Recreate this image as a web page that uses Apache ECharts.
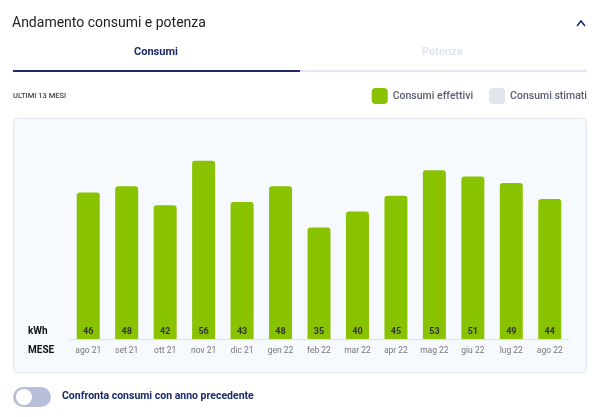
<!DOCTYPE html>
<html>
<head>
<meta charset="utf-8">
<script src="https://cdn.jsdelivr.net/npm/echarts@6/dist/echarts.min.js"></script>
<style>
html, body { margin: 0; padding: 0; background: #fff; }
#main { width: 600px; height: 417px; }
</style>
</head>
<body>
<div id="main"></div>
<script>
var myChart = echarts.init(document.getElementById('main'));

// dati
var mesi = ['ago 21', 'set 21', 'ott 21', 'nov 21', 'dic 21', 'gen 22', 'feb 22', 'mar 22', 'apr 22', 'mag 22', 'giu 22', 'lug 22', 'ago 22'];
var consumiEffettivi = [46, 48, 42, 56, 43, 48, 35, 40, 45, 53, 51, 49, 44];
var consumiStimati = [];

var font = 'Roboto, "Noto Sans", sans-serif';
var navy = '#1b2a6b';

var option = {
	backgroundColor: '#fff',
	animation: false,
	legend: {
		right: 8,
		top: 83,
		itemWidth: 16,
		itemHeight: 16,
		itemGap: 16,
		icon: 'roundRect',
		textStyle: {
			fontFamily: font,
			fontSize: 10.5,
			fontWeight: 500,
			color: '#5a5f6e'
		},
		data: ['Consumi effettivi', 'Consumi stimati']
	},
	graphic: [
		// titolo
		{ type: 'text', left: 12, top: 16, style: { text: 'Andamento consumi e potenza', font: '14px ' + font, fill: '#222' } },
		// tabs
		{ type: 'text', left: 134, top: 47, style: { text: 'Consumi', font: 'bold 11px ' + font, fill: navy } },
		{ type: 'text', left: 422, top: 47, style: { text: 'Potenza', font: 'bold 11px ' + font, fill: '#dfe4ef' } },
		{ type: 'rect', shape: { x: 300, y: 70, width: 287, height: 2 }, style: { fill: '#e3e7f1' } },
		{ type: 'rect', shape: { x: 13, y: 70, width: 287, height: 2 }, style: { fill: navy } },
		// chevron
		{ type: 'polyline', shape: { points: [[577, 26], [581, 21], [585, 26]] }, style: { stroke: navy, lineWidth: 1.6, fill: null } },
		{ type: 'text', left: 13, top: 92, style: { text: 'ULTIMI 13 MESI', font: '500 7.5px ' + font, fill: '#444' } },
		// card
		{ type: 'rect', z: -10, shape: { x: 13.5, y: 118.5, width: 573, height: 254, r: 4 }, style: { fill: '#f6f9fe', stroke: '#e1e6ef', lineWidth: 1 } },
		{ type: 'text', left: 28, top: 326, style: { text: 'kWh', font: 'bold 10px ' + font, fill: '#111' } },
		{ type: 'text', left: 28, top: 345, style: { text: 'MESE', font: 'bold 10px ' + font, fill: '#111' } },
		// toggle
		{ type: 'rect', shape: { x: 13, y: 387, width: 38, height: 20, r: 10 }, style: { fill: '#b6bfd7' } },
		{ type: 'circle', shape: { cx: 24, cy: 397, r: 8 }, style: { fill: '#fff' } },
		{ type: 'text', left: 62, top: 391, style: { text: 'Confronta consumi con anno precedente', font: 'bold 10.5px ' + font, fill: navy } }
	],
	grid: {
		left: 69,
		right: 31,
		top: 132,
		bottom: 78
	},
	xAxis: {
		type: 'category',
		data: mesi,
		axisLine: { lineStyle: { color: '#dde2ea' } },
		axisTick: { show: false },
		axisLabel: {
			interval: 0,
			fontFamily: font,
			fontSize: 8.5,
			color: '#777',
			margin: 7
		}
	},
	yAxis: {
		type: 'value',
		min: 0,
		max: 65,
		show: false
	},
	series: [{
		name: 'Consumi effettivi',
		type: 'bar',
		barWidth: 23,
		barGap: '-100%',
		itemStyle: {
			color: '#89c300',
			borderRadius: [3, 3, 0, 0]
		},
		label: {
			show: true,
			position: 'insideBottom',
			distance: 3,
			fontFamily: font,
			fontSize: 9,
			fontWeight: 'bold',
			color: '#333'
		},
		data: consumiEffettivi
	}, {
		name: 'Consumi stimati',
		type: 'bar',
		barWidth: 23,
		itemStyle: {
			color: '#e1e5f0'
		},
		data: consumiStimati
	}]
};
myChart.setOption(option);
</script>
</body>
</html>
